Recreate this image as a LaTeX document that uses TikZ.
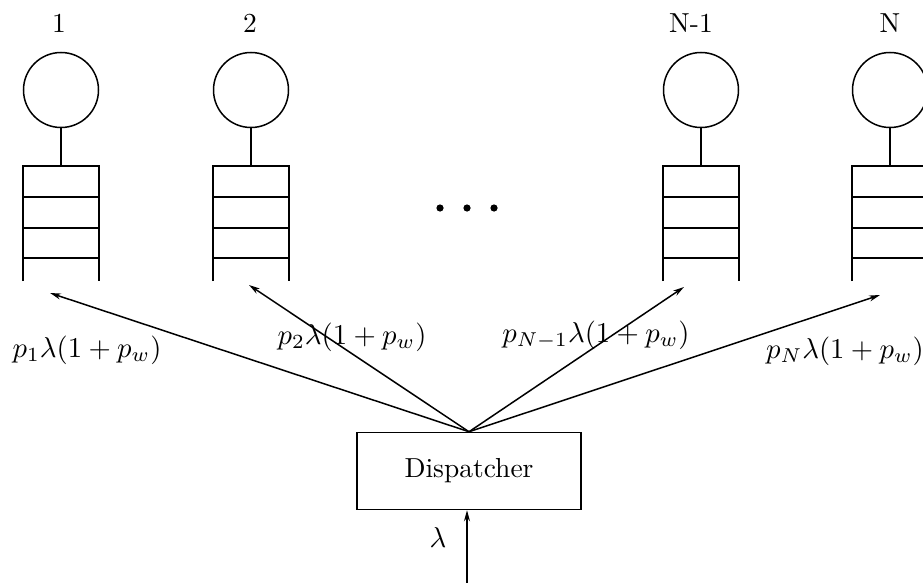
\documentclass[tikz,border=0pt]{standalone}
\usetikzlibrary{arrows.meta}
% enlarged text; the 10pt fonts are scaled as a whole
\newcommand\enl[1]{\scalebox{2.75}{#1}}
\newcommand\enlm[1]{\scalebox{2.87}{#1}}
\begin{document}
\begin{tikzpicture}[x=1pt,y=-1pt,
  server/.style={circle,draw,line width=1.5pt,minimum size=75pt,inner sep=0pt},
  stem/.style={line width=1.5pt},
  buf/.style={line width=1.9pt},
  qlabel/.style={inner sep=0pt},
  flow/.style={line width=1.5pt,-{Stealth[length=11pt,width=6pt]}},
  rate/.style={inner sep=0pt},
  box/.style={draw,line width=1.5pt,minimum width=224pt,minimum height=77pt,inner sep=0pt}]
\useasboundingbox (0,0) rectangle (923,583);

% servers with their buffers
\foreach \name/\x/\lx/\lab in {q1/61/59/1, q2/251/250/2, q3/701/691/N-1, q4/890/890/N}{
  \node[qlabel] (\name-l) at (\lx,23) {\enl{\lab}};
  \node[server] (\name-s) at (\x,90) {};
  \coordinate (\name-t) at (\x,166);
  \draw[stem] (\name-s.south) -- (\name-t);
  \draw[buf] (\x-38,281) -- (\x-38,166) -- (\x+38,166) -- (\x+38,281);
  \foreach \y in {197,228,258}
    \draw[buf] (\x-38,\y) -- (\x+38,\y);
}

% ellipsis between the queues
\foreach \x in {440,467,494}
  \fill (\x,208) circle (3.6pt);

% dispatcher
\node[box] (disp) at (469,471) {\enl{Dispatcher}};
\coordinate (src) at (467,583);
\draw[flow] (src) -- (src |- disp.south);
\node[rate] (lam) at (438,538) {\enlm{$\lambda$}};

% routed flows
\coordinate (a1) at (50,293);
\coordinate (a2) at (249,285);
\coordinate (a3) at (684,287);
\coordinate (a4) at (880,295);
\foreach \t in {a1,a2,a3,a4}
  \draw[flow] (disp.north) -- (\t);

\node[rate] (r1) at (87,350) {\enlm{$p_1\lambda(1+p_w)$}};
\node[rate] (r2) at (352,337) {\enlm{$p_2\lambda(1+p_w)$}};
\node[rate] (r3) at (596,335) {\enlm{$p_{N-1}\lambda(1+p_w)$}};
\node[rate] (r4) at (845,351) {\enlm{$p_N\lambda(1+p_w)$}};
\end{tikzpicture}
\end{document}
